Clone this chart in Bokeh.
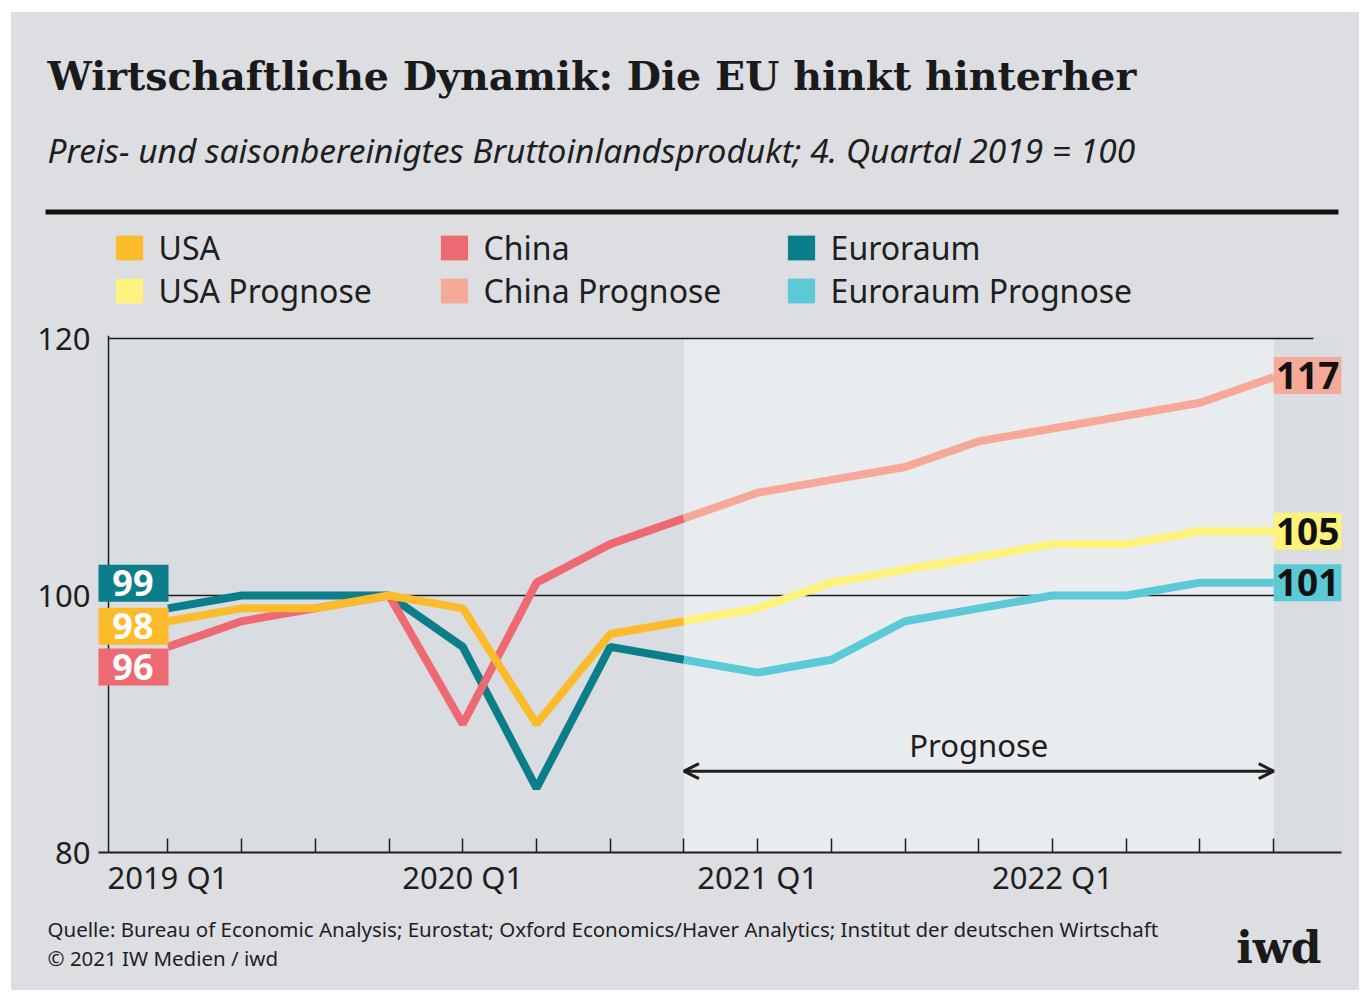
import numpy as np
from bokeh.plotting import figure
from bokeh.layouts import column
from bokeh.models import (Range1d, BoxAnnotation, Span, Label, Legend, LegendItem,
                          FixedTicker, Arrow, OpenHead)
from bokeh.embed import file_html
from bokeh.resources import INLINE

# ---------------- data ----------------
quarters = ["2019 Q1", "2019 Q2", "2019 Q3", "2019 Q4",
            "2020 Q1", "2020 Q2", "2020 Q3", "2020 Q4",
            "2021 Q1", "2021 Q2", "2021 Q3", "2021 Q4",
            "2022 Q1", "2022 Q2", "2022 Q3", "2022 Q4"]
usa = [98, 99, 99, 100, 99, 90, 97, 98]
china = [96, 98, 99, 100, 90, 101, 104, 106]
euro = [99, 100, 100, 100, 96, 85, 96, 95]
usa_prog = [98, 99, 101, 102, 103, 104, 104, 105, 105]
china_prog = [106, 108, 109, 110, 112, 113, 114, 115, 117]
euro_prog = [95, 94, 95, 98, 99, 100, 100, 101, 101]
y_ticks = [80, 100, 120]
forecast_start = 7   # index of 2020 Q4
forecast_end = 15    # index of 2022 Q4

C_USA, C_USA_P = "#fbbb2a", "#fdf27b"
C_CN, C_CN_P = "#ee6a73", "#f6a899"
C_EU, C_EU_P = "#0b7e89", "#5bc9d6"
TXT = "#1e1e1e"
FONT = "Noto Sans"
OUTER = "#dcdee2"

W = 1348
PX0, PY0 = 11, 12          # page position of the grey card


def no_align(f):
    try:
        f.frame_align = False
    except Exception:
        pass


def panel(height, top):
    f = figure(width=W, height=height, title=None, output_backend="svg", toolbar_location=None,
               x_range=Range1d(PX0, PX0 + W), y_range=Range1d(top + height, top),
               min_border=0, background_fill_color=OUTER, border_fill_color=OUTER,
               outline_line_color=None)
    f.axis.visible = False
    f.grid.visible = False
    no_align(f)
    return f

# ---------------- header ----------------
HEAD_H = 300
head = panel(HEAD_H, PY0)
head.add_layout(Label(x=47, y=75, text="Wirtschaftliche Dynamik: Die EU hinkt hinterher",
                      text_font="DejaVu Serif", text_font_style="bold", text_font_size="39.5px",
                      text_color="#1a1a1a", text_baseline="middle"))
head.add_layout(Label(x=47, y=149,
                      text="Preis- und saisonbereinigtes Bruttoinlandsprodukt; 4. Quartal 2019 = 100",
                      text_font=FONT, text_font_style="italic", text_font_size="33.5px",
                      text_color=TXT, text_baseline="middle"))
head.add_layout(BoxAnnotation(left=45, right=1338, top=209, bottom=214,
                              fill_color="#111111", fill_alpha=1, line_color=None))


def swatch(fig, color):
    # legend proxy: one NaN point, never visible in the plot area
    return fig.rect(x=np.array([np.nan]), y=np.array([np.nan]), width=1, height=1,
                    fill_color=color, line_color=None)


legend_cols = [
    [("USA", C_USA), ("USA Prognose", C_USA_P)],
    [("China", C_CN), ("China Prognose", C_CN_P)],
    [("Euroraum", C_EU), ("Euroraum Prognose", C_EU_P)],
]
legend_x = [100.6, 425.6, 772.6]
for col, lx in zip(legend_cols, legend_x):
    items = [LegendItem(label=name, renderers=[swatch(head, c)]) for name, c in col]
    lg = Legend(items=items, location=(lx, 0), orientation="vertical",
                glyph_width=34, glyph_height=31, label_standoff=13, spacing=-1,
                padding=0, margin=0, border_line_color=None, background_fill_alpha=0,
                label_text_font=FONT, label_text_font_size="32px", label_text_color=TXT)
    head.add_layout(lg, "center")

# ---------------- main chart ----------------
MAIN_TOP = PY0 + HEAD_H          # 312
MAIN_H = 593
ML, MR, MT, MB = 87, 18, 23, 53
FW, FH = W - ML - MR, MAIN_H - MT - MB
PPX, PPY = 73.72, 12.85           # pixels per quarter / per index point
X0 = -(167.4 - 98) / PPX
X1 = X0 + FW / PPX
Y0 = 80
Y1 = Y0 + FH / PPY
AXIS_X = X0 + 10 / PPX            # y-axis line position (10 px inside frame)

p = figure(width=W, height=MAIN_H, x_range=Range1d(X0, X1), y_range=Range1d(Y0, Y1),
           title=None, output_backend="svg", toolbar_location=None,
           min_border_left=ML, min_border_right=MR, min_border_top=MT, min_border_bottom=MB,
           background_fill_color="#d9dce1", border_fill_color=OUTER,
           outline_line_color=None)
p.grid.visible = False
no_align(p)

xi = list(range(len(quarters)))
p.xaxis.ticker = FixedTicker(ticks=xi)
p.xaxis.major_label_overrides = {i: (q if q.endswith("Q1") else "") for i, q in zip(xi, quarters)}
p.xaxis.major_tick_in = 14
p.xaxis.major_tick_out = 0
p.xaxis.minor_tick_line_color = None
p.xaxis.axis_line_width = 2
p.xaxis.major_tick_line_width = 1.5
p.xaxis.axis_line_color = TXT
p.xaxis.major_tick_line_color = TXT
p.xaxis.major_label_text_font = FONT
p.xaxis.major_label_text_font_size = "31px"
p.xaxis.major_label_text_color = TXT
p.xaxis.major_label_standoff = 3

p.yaxis.ticker = FixedTicker(ticks=y_ticks)
p.yaxis.major_tick_in = 0
p.yaxis.major_tick_out = 0
p.yaxis.minor_tick_line_color = None
p.yaxis.axis_line_color = None
p.yaxis.major_label_text_font = FONT
p.yaxis.major_label_text_font_size = "31px"
p.yaxis.major_label_text_color = TXT
p.yaxis.major_label_standoff = 8

# forecast shading + reference lines
p.add_layout(BoxAnnotation(left=forecast_start, right=forecast_end, top=120,
                           fill_color="#e9ecee", fill_alpha=1, line_color=None, level="underlay"))
p.add_layout(Span(location=100, dimension="width", line_color=TXT, line_width=1.5, level="underlay"))
p.segment(x0=[AXIS_X], y0=[120], x1=[X1 - 28 / PPX], y1=[120], line_color=TXT, line_width=1.5)

# lines
hist_x = xi[:len(usa)]
prog_x = xi[forecast_start:]
LW = 8
p.line(hist_x, euro, line_color=C_EU, line_width=LW)
p.line(hist_x, china, line_color=C_CN, line_width=LW)
p.line(hist_x, usa, line_color=C_USA, line_width=LW)
p.line(prog_x, china_prog, line_color=C_CN_P, line_width=LW)
p.line(prog_x, usa_prog, line_color=C_USA_P, line_width=LW)
p.line(prog_x, euro_prog, line_color=C_EU_P, line_width=LW)

# y-axis line
p.add_layout(Span(location=AXIS_X, dimension="height", line_color=TXT, line_width=1.5))

# value boxes
BOX_H = 37
left_specs = [(euro[0], C_EU, 25), (usa[0], C_USA, -5), (china[0], C_CN, -20)]
for v, c, off in left_specs:
    cy = v + off / PPY
    p.add_layout(BoxAnnotation(left=hist_x[0] - 70 / PPX, right=hist_x[0] + 0.6 / PPX,
                               bottom=cy - BOX_H / 2 / PPY, top=cy + BOX_H / 2 / PPY,
                               fill_color=c, fill_alpha=1, line_color=None))
    p.add_layout(Label(x=hist_x[0] - 35 / PPX, y=cy, text=f"{v}", text_align="center",
                       text_baseline="middle", text_font=FONT, text_font_style="bold",
                       text_font_size="36px", text_color="white"))

right_specs = [(china_prog[-1], C_CN_P, 1.5), (usa_prog[-1], C_USA_P, 0), (euro_prog[-1], C_EU_P, 0)]
for v, c, off in right_specs:
    cy = v + off / PPY
    p.add_layout(BoxAnnotation(left=prog_x[-1], right=prog_x[-1] + 68 / PPX,
                               bottom=cy - BOX_H / 2 / PPY, top=cy + BOX_H / 2 / PPY,
                               fill_color=c, fill_alpha=1, line_color=None))
    p.add_layout(Label(x=prog_x[-1] + 34 / PPX, y=cy, text=f"{v}", text_align="center",
                       text_baseline="middle", text_font=FONT, text_font_style="bold",
                       text_font_size="37px", text_color="#111111"))

# Prognose arrow
ARROW_Y = 86.33
p.add_layout(Arrow(x_start=forecast_start, x_end=forecast_end, y_start=ARROW_Y, y_end=ARROW_Y,
                   line_width=3, line_color=TXT,
                   start=OpenHead(size=15, line_width=3, line_color=TXT),
                   end=OpenHead(size=15, line_width=3, line_color=TXT)))
p.add_layout(Label(x=(forecast_start + forecast_end) / 2, y=ARROW_Y + 2.0, text="Prognose",
                   text_align="center", text_baseline="middle", text_font=FONT,
                   text_font_size="31px", text_color=TXT))

# ---------------- footer ----------------
FOOT_TOP = MAIN_TOP + MAIN_H     # 905
FOOT_H = 85
foot = panel(FOOT_H, FOOT_TOP)
foot.add_layout(Label(x=47, y=928,
                      text="Quelle: Bureau of Economic Analysis; Eurostat; Oxford Economics/Haver Analytics; Institut der deutschen Wirtschaft",
                      text_font=FONT, text_font_size="20.5px", text_color=TXT, text_baseline="middle"))
foot.add_layout(Label(x=47, y=957, text="© 2021 IW Medien / iwd",
                      text_font=FONT, text_font_size="20.5px", text_color=TXT, text_baseline="middle"))
foot.add_layout(Label(x=1321, y=947, text="iwd", text_font="DejaVu Serif", text_font_style="bold",
                      text_font_size="44px", text_color="#1a1a1a", text_align="right",
                      text_baseline="middle"))

layout = column(head, p, foot, spacing=0, margin=(PY0, 0, 0, PX0),
                styles={"background-color": OUTER})
open("out.html", "w").write(file_html(layout, INLINE))
